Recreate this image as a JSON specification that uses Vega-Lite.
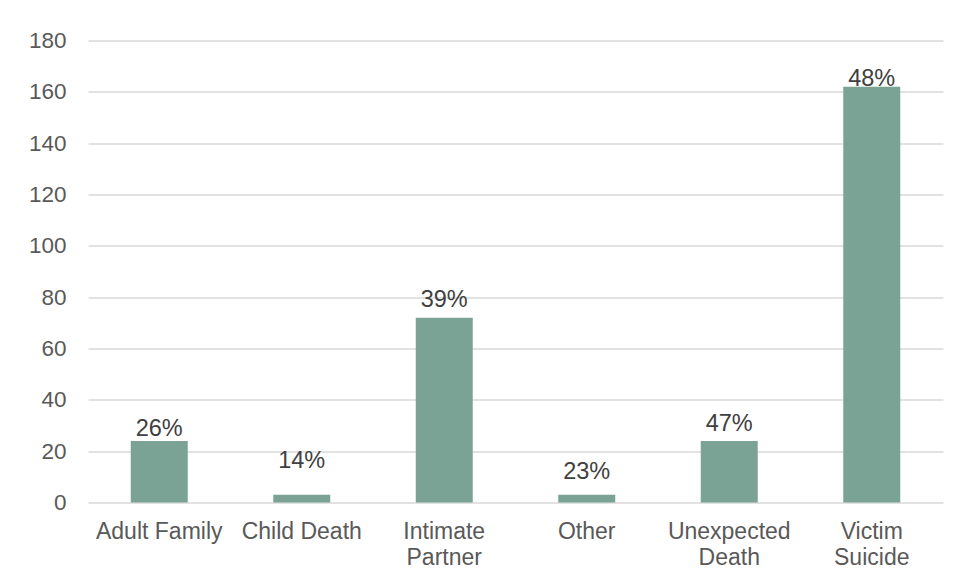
{
  "$schema": "https://vega.github.io/schema/vega-lite/v6.json",
  "autosize": {"type": "none"},
  "width": 855,
  "height": 462,
  "padding": {"left": 88, "top": 40.5, "right": 17, "bottom": 78.5},
  "background": "#ffffff",
  "config": {
    "view": {"stroke": null},
    "font": "Liberation Sans"
  },
  "data": {
    "values": [
      {"category": "Adult Family", "count": 24, "share": "26%", "labelAt": 26.0},
      {"category": "Child Death", "count": 3, "share": "14%", "labelAt": 13.4},
      {"category": "Intimate Partner", "count": 72, "share": "39%", "labelAt": 76.1},
      {"category": "Other", "count": 3, "share": "23%", "labelAt": 9.1},
      {"category": "Unexpected Death", "count": 24, "share": "47%", "labelAt": 28.0},
      {"category": "Victim Suicide", "count": 162, "share": "48%", "labelAt": 162.4}
    ]
  },
  "encoding": {
    "x": {
      "field": "category",
      "type": "nominal",
      "sort": null,
      "title": null,
      "scale": {"paddingInner": 0.6, "paddingOuter": 0.3},
      "axis": {
        "domain": false,
        "ticks": false,
        "tickSize": 0,
        "labelAngle": 0,
        "labelPadding": 18,
        "labelFontSize": 23,
        "labelColor": "#595959",
        "labelLineHeight": 26,
        "labelBaseline": "top",
        "labelExpr": "datum.value == 'Intimate Partner' ? ['Intimate', 'Partner'] : datum.value == 'Unexpected Death' ? ['Unexpected', 'Death'] : datum.value == 'Victim Suicide' ? ['Victim', 'Suicide'] : datum.value"
      }
    }
  },
  "layer": [
    {
      "mark": {"type": "bar", "color": "#7aa396"},
      "encoding": {
        "y": {
          "field": "count",
          "type": "quantitative",
          "title": null,
          "scale": {"domain": [0, 180], "nice": false},
          "axis": {
            "values": [0, 20, 40, 60, 80, 100, 120, 140, 160, 180],
            "domain": false,
            "ticks": false,
            "tickSize": 0,
            "labelPadding": 22,
            "labelFontSize": 22.5,
            "labelColor": "#595959",
            "gridColor": "#d9d9d9",
            "gridWidth": 1.3
          }
        }
      }
    },
    {
      "mark": {"type": "text", "baseline": "alphabetic", "align": "center", "fontSize": 23.5, "color": "#404040"},
      "encoding": {
        "y": {"field": "labelAt", "type": "quantitative"},
        "text": {"field": "share", "type": "nominal"}
      }
    }
  ]
}
